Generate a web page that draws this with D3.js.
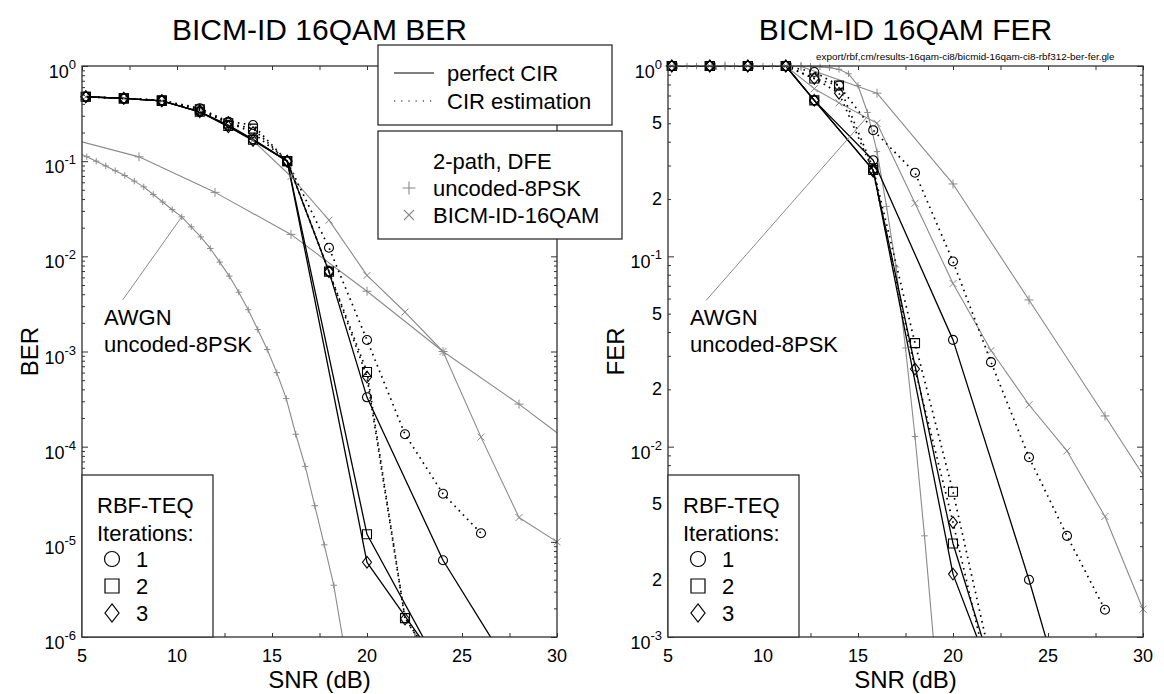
<!DOCTYPE html>
<html>
<head>
<meta charset="utf-8">
<script src="https://cdn.jsdelivr.net/npm/d3@7"></script>
<style>
  body { margin: 0; background: #fff; }
  text { font-family: "Liberation Sans", Arial, Helvetica, sans-serif; fill: #000; }
</style>
</head>
<body>
<svg id="chart" width="1164" height="694"></svg>
<script>
// ---------- data: [SNR (dB), error rate] ----------
// BER, RBF-TEQ, perfect CIR (solid)
const berPerfIt1 = [[5.2,.475],[7.2,.457],[9.2,.43],[11.2,.33],[12.7,.24],[14,.17],[15.8,.1],[18,6.9e-3],[20,3.3e-4],[24,6.4e-6],[28,3.3e-7]];
const berPerfIt2 = [[5.2,.475],[7.2,.457],[9.2,.43],[11.2,.33],[12.7,.235],[14,.168],[15.8,.1],[20,1.2e-5],[24,4.1e-7]];
const berPerfIt3 = [[5.2,.475],[7.2,.457],[9.2,.43],[11.2,.33],[12.7,.23],[14,.165],[15.8,.1],[20,6.1e-6],[24,4.5e-7]];
// BER, RBF-TEQ, CIR estimation (dotted)
const berEstIt1 = [[5.2,.475],[7.2,.457],[9.2,.435],[11.2,.36],[12.7,.26],[14,.24],[15.8,.1],[18,1.23e-2],[20,1.32e-3],[22,1.35e-4],[24,3.2e-5],[26,1.23e-5]];
const berEstIt2 = [[5.2,.475],[7.2,.457],[9.2,.435],[11.2,.35],[12.7,.25],[14,.22],[15.8,.1],[18,6.9e-3],[20,6.1e-4],[22,1.58e-6],[24,4e-7]];
const berEstIt3 = [[5.2,.475],[7.2,.457],[9.2,.435],[11.2,.34],[12.7,.255],[14,.2],[15.8,.1],[18,6.9e-3],[20,5.4e-4],[22,1.55e-6],[24,4e-7]];
// BER references (grey)
const berAwgn8psk = [[4.75,.124],[5.25,.1114],[5.75,.100],[6.25,.0891],[6.75,.0794],[7.25,.0708],[7.75,.0617],[8.25,.0537],[8.75,.0447],[9.25,.0372],[9.75,.0309],[10.25,.026],[10.75,.0204],[11.25,.016],[11.75,.0121],[12.25,8.7e-3],[12.75,6.2e-3],[13.25,4.2e-3],[13.75,2.75e-3],[14.25,1.7e-3],[14.75,1.05e-3],[15.25,6.0e-4],[15.75,3.2e-4],[16.25,1.35e-4],[16.75,6.2e-5],[17.25,2.4e-5],[17.75,9.3e-6],[18.25,3.5e-6],[18.75,9e-7]];
const berDfe8psk = [[4,.18],[8,.111],[12,.047],[16,.017],[20,4.3e-3],[24,1.0e-3],[28,2.8e-4],[32,7e-5]];
const berDfe16qam = [[5.2,.475],[7.2,.457],[9.2,.43],[11.2,.33],[12.7,.23],[14,.165],[16,.069],[18,.024],[20,6.3e-3],[22,2.6e-3],[24,1.0e-3],[26,1.26e-4],[28,1.8e-5],[30,1e-5]];

// FER, RBF-TEQ, perfect CIR (solid)
const ferPerfIt1 = [[5.2,1],[7.2,1],[9.2,1],[11.2,1],[12.7,.66],[15.8,.32],[20,.0364],[24,2.0e-3],[26,4.1e-4]];
const ferPerfIt2 = [[5.2,1],[7.2,1],[9.2,1],[11.2,1],[12.7,.66],[15.8,.284],[20,3.1e-3],[22,7e-4]];
const ferPerfIt3 = [[5.2,1],[7.2,1],[9.2,1],[11.2,1],[12.7,.66],[15.8,.284],[20,2.14e-3],[22,6.4e-4]];
// FER, RBF-TEQ, CIR estimation (dotted)
const ferEstIt1 = [[5.2,1],[7.2,1],[9.2,1],[11.2,1],[12.7,.93],[14,.79],[15.8,.46],[18,.275],[20,.094],[22,.0278],[24,8.8e-3],[26,3.4e-3],[28,1.39e-3]];
const ferEstIt2 = [[5.2,1],[7.2,1],[9.2,1],[11.2,1],[12.7,.86],[14,.79],[15.8,.29],[18,.035],[20,5.8e-3],[22,7.4e-4]];
const ferEstIt3 = [[5.2,1],[7.2,1],[9.2,1],[11.2,1],[12.7,.86],[14,.72],[15.8,.28],[18,.0256],[20,4.0e-3],[22,5.5e-4]];
// FER references (grey)
const ferAwgn8psk = [[5,1],[5.5,1],[6,1],[6.5,1],[7,1],[7.5,1],[8,1],[8.5,1],[9,1],[9.5,1],[10,1],[10.5,1],[11,1],[11.5,1],[12,.999],[12.5,.997],[13,.99],[13.5,.98],[14,.96],[14.5,.91],[15,.79],[15.5,.57],[16,.355],[16.5,.183],[17,.088],[17.5,.033],[18,.0113],[18.5,3.4e-3],[19,9e-4]];
const ferDfe8psk = [[4,1],[8,1],[12,.995],[16,.72],[20,.24],[24,.059],[28,.0145],[32,3.5e-3]];
const ferDfe16qam = [[5.2,1],[7.2,1],[9.2,1],[11.2,1],[12.7,.76],[14,.64],[16,.5],[18,.19],[20,.072],[22,.032],[24,.0166],[26,9.5e-3],[28,4.3e-3],[30,1.4e-3]];

// ---------- axis ticks and labels ----------
const snrMajor = [5, 10, 15, 20, 25, 30];
const snrMinor = [7.5, 12.5, 17.5, 22.5, 27.5];
const berDecades = [1, 1e-1, 1e-2, 1e-3, 1e-4, 1e-5, 1e-6];
const berDecadeLabels = ["0", "-1", "-2", "-3", "-4", "-5", "-6"];
const ferDecades = [1, 1e-1, 1e-2, 1e-3];
const ferDecadeLabels = ["0", "-1", "-2", "-3"];
const ferMantissaTicks = [0.5, 0.2, 0.05, 0.02, 0.005, 0.002];
const ferMantissaLabels = ["5", "2", "5", "2", "5", "2"];

const GREY = "#8a8a8a";
const AXIS = "#303030";
const svg = d3.select("#chart");

function minorLogTicks(lo, hi) {
  const out = [];
  for (let e = Math.floor(Math.log10(lo)); e < Math.ceil(Math.log10(hi)); e++)
    for (let m = 2; m <= 9; m++) {
      const v = m * Math.pow(10, e);
      if (v > lo && v < hi) out.push(v);
    }
  return out;
}

function markerPath(kind, s) {
  switch (kind) {
    case "square": return `M${-s},${-s}H${s}V${s}H${-s}Z`;
    case "diamond": return `M0,${-s * 1.3}L${s},0L0,${s * 1.3}L${-s},0Z`;
    case "plus": return `M${-s},0H${s}M0,${-s}V${s}`;
    case "cross": return `M${-s},${-s}L${s},${s}M${-s},${s}L${s},${-s}`;
    default: return d3.arc()({innerRadius: 0, outerRadius: s, startAngle: 0, endAngle: 2 * Math.PI});
  }
}

function panel(cfg) {
  const x = d3.scaleLinear().domain([5, 30]).range([cfg.left, cfg.right]);
  const y = d3.scaleLog().domain(cfg.yDomain).range([cfg.bottom, cfg.top]);
  const g = svg.append("g");
  const clipId = "clip-" + cfg.id;
  svg.append("clipPath").attr("id", clipId).append("rect")
    .attr("x", cfg.left).attr("y", cfg.top)
    .attr("width", cfg.right - cfg.left).attr("height", cfg.bottom - cfg.top);

  const lines = g.append("g").attr("clip-path", `url(#${clipId})`);
  const marks = g.append("g");
  const line = d3.line().x(d => x(d[0])).y(d => y(d[1]));
  const [ymin, ymax] = cfg.yDomain;

  cfg.series.forEach(s => {
    lines.append("path").datum(s.data).attr("d", line)
      .attr("fill", "none").attr("stroke", s.color)
      .attr("stroke-width", s.width)
      .attr("stroke-dasharray", s.dash || null)
      .attr("stroke-linejoin", "round");
    if (s.marker) {
      marks.selectAll(null)
        .data(s.data.filter(d => d[1] >= ymin * 0.999 && d[1] <= ymax * 1.001 && d[0] >= 5 && d[0] <= 30))
        .enter().append("path")
        .attr("transform", d => `translate(${x(d[0])},${y(d[1])})`)
        .attr("d", markerPath(s.marker, s.msize))
        .attr("fill", "none").attr("stroke", s.color)
        .attr("stroke-width", s.mwidth || 1);
    }
  });

  // frame and inward ticks on all four sides
  const ax = g.append("g");
  ax.append("rect").attr("x", cfg.left).attr("y", cfg.top)
    .attr("width", cfg.right - cfg.left).attr("height", cfg.bottom - cfg.top)
    .attr("fill", "none").attr("stroke", AXIS).attr("stroke-width", 1.3);
  const xTicks = snrMajor.concat(snrMinor);
  const tidy = sel => { sel.select(".domain").remove(); sel.selectAll("line").attr("stroke", AXIS); sel.selectAll("text").remove(); };
  ax.append("g").attr("transform", `translate(0,${cfg.bottom})`)
    .call(d3.axisBottom(x).tickValues(xTicks).tickSize(-4).tickSizeOuter(0)).call(tidy);
  ax.append("g").attr("transform", `translate(0,${cfg.top})`)
    .call(d3.axisTop(x).tickValues(xTicks).tickSize(-4).tickSizeOuter(0)).call(tidy);
  const minors = minorLogTicks(ymin, ymax);
  [[d3.axisLeft, cfg.left], [d3.axisRight, cfg.right]].forEach(([fn, px]) => {
    ax.append("g").attr("transform", `translate(${px},0)`)
      .call(fn(y).tickValues(cfg.decades).tickSize(-6).tickSizeOuter(0)).call(tidy);
    ax.append("g").attr("transform", `translate(${px},0)`)
      .call(fn(y).tickValues(minors).tickSize(-3).tickSizeOuter(0)).call(tidy);
  });

  // tick labels
  ax.selectAll(null).data(snrMajor).enter().append("text")
    .attr("x", d => x(d)).attr("y", cfg.bottom + 25)
    .attr("text-anchor", "middle").attr("font-size", 18).text(d => d);
  cfg.decades.forEach((v, i) => {
    const t = ax.append("text").attr("x", cfg.left - 6).attr("y", y(v) + 12)
      .attr("text-anchor", "end").attr("font-size", 18).text("10");
    t.append("tspan").attr("dy", -9).attr("font-size", 13).text(cfg.decadeLabels[i]);
  });
  if (cfg.mantissa) {
    ax.selectAll(null).data(cfg.mantissa).enter().append("text")
      .attr("x", cfg.left - 6).attr("y", d => y(d) + 6)
      .attr("text-anchor", "end").attr("font-size", 18)
      .text((d, i) => cfg.mantissaLabels[i]);
  }

  // titles
  const cx = (cfg.left + cfg.right) / 2;
  g.append("text").attr("x", cx).attr("y", 40).attr("text-anchor", "middle")
    .attr("font-size", 30).text(cfg.title);
  g.append("text").attr("x", cx).attr("y", 688).attr("text-anchor", "middle")
    .attr("font-size", 24).text("SNR (dB)");
  g.append("text").attr("transform", `translate(${cfg.left - 44},${(cfg.top + cfg.bottom) / 2}) rotate(-90)`)
    .attr("text-anchor", "middle").attr("font-size", 24).text(cfg.yLabel);

  // AWGN annotation with leader line to the reference curve
  const a = cfg.awgnNote;
  g.append("line").attr("x1", x(a.at[0])).attr("y1", y(a.at[1]))
    .attr("x2", x(a.from[0])).attr("y2", y(a.from[1]))
    .attr("stroke", GREY).attr("stroke-width", 1);
  g.append("text").attr("x", cfg.left + 22).attr("y", 325).attr("font-size", 22).text("AWGN");
  g.append("text").attr("x", cfg.left + 22).attr("y", 352).attr("font-size", 22).text("uncoded-8PSK");

  // iterations legend
  const lx = cfg.left, ly = 475;
  const lg = g.append("g");
  lg.append("rect").attr("x", lx).attr("y", ly).attr("width", 131).attr("height", cfg.bottom - ly)
    .attr("fill", "#fff").attr("stroke", AXIS).attr("stroke-width", 1.3);
  lg.append("text").attr("x", lx + 15).attr("y", ly + 38).attr("font-size", 22).text("RBF-TEQ");
  lg.append("text").attr("x", lx + 15).attr("y", ly + 66).attr("font-size", 22).text("Iterations:");
  ["circle", "square", "diamond"].forEach((k, i) => {
    const yy = ly + 84 + i * 27;
    lg.append("path").attr("transform", `translate(${lx + 30},${yy})`)
      .attr("d", markerPath(k, k === "circle" ? 7.5 : 7))
      .attr("fill", "none").attr("stroke", "#000").attr("stroke-width", 1.2);
    lg.append("text").attr("x", lx + 54).attr("y", yy + 8).attr("font-size", 22).text(i + 1);
  });
  return {x, y};
}

function blackSeries(p1, p2, p3, e1, e2, e3) {
  const solid = {color: "#000", width: 1.3, msize: 4.5, mwidth: 1.1};
  const dotted = {color: "#000", width: 1.7, dash: "1.6,4.4", msize: 4.5, mwidth: 1.1};
  return [
    Object.assign({data: e1, marker: "circle"}, dotted),
    Object.assign({data: e2, marker: "square"}, dotted),
    Object.assign({data: e3, marker: "diamond"}, dotted),
    Object.assign({data: p1, marker: "circle"}, solid),
    Object.assign({data: p2, marker: "square"}, solid),
    Object.assign({data: p3, marker: "diamond"}, solid)
  ];
}

function greySeries(awgn, dfe8, dfe16) {
  return [
    {data: awgn, color: GREY, width: 1.1, marker: "plus", msize: 3.2},
    {data: dfe8, color: GREY, width: 1.1, marker: "plus", msize: 4.5},
    {data: dfe16, color: GREY, width: 1.1, marker: "cross", msize: 3.5}
  ];
}

panel({
  id: "ber", left: 82, right: 557, top: 66, bottom: 637, yDomain: [1e-6, 1],
  decades: berDecades, decadeLabels: berDecadeLabels,
  title: "BICM-ID 16QAM BER", yLabel: "BER",
  awgnNote: {at: [10.25, .026], from: [7.15, 3.5e-3]},
  series: greySeries(berAwgn8psk, berDfe8psk, berDfe16qam)
    .concat(blackSeries(berPerfIt1, berPerfIt2, berPerfIt3, berEstIt1, berEstIt2, berEstIt3))
});

panel({
  id: "fer", left: 668, right: 1143, top: 66, bottom: 637, yDomain: [1e-3, 1],
  decades: ferDecades, decadeLabels: ferDecadeLabels,
  mantissa: ferMantissaTicks, mantissaLabels: ferMantissaLabels,
  title: "BICM-ID 16QAM FER", yLabel: "FER",
  awgnNote: {at: [15.55, .55], from: [7.0, .0586]},
  series: greySeries(ferAwgn8psk, ferDfe8psk, ferDfe16qam)
    .concat(blackSeries(ferPerfIt1, ferPerfIt2, ferPerfIt3, ferEstIt1, ferEstIt2, ferEstIt3))
});

// source file tag above the FER plot
svg.append("text").attr("x", 816).attr("y", 60).attr("font-size", 9.9).attr("fill", "#333")
  .text("export/rbf,cm/results-16qam-ci8/bicmid-16qam-ci8-rbf312-ber-fer.gle");

// line-style / reference legends
const lgTop = svg.append("g");
lgTop.append("rect").attr("x", 378).attr("y", 45).attr("width", 234).attr("height", 80)
  .attr("fill", "#fff").attr("stroke", AXIS).attr("stroke-width", 1.3);
lgTop.append("line").attr("x1", 394).attr("x2", 434).attr("y1", 73).attr("y2", 73)
  .attr("stroke", "#000").attr("stroke-width", 1.2);
lgTop.append("line").attr("x1", 394).attr("x2", 434).attr("y1", 101).attr("y2", 101)
  .attr("stroke", "#000").attr("stroke-width", 1.2).attr("stroke-dasharray", "1.2,6");
lgTop.append("text").attr("x", 447).attr("y", 81).attr("font-size", 22).text("perfect CIR");
lgTop.append("text").attr("x", 447).attr("y", 109).attr("font-size", 22).text("CIR estimation");

const lgRef = svg.append("g");
lgRef.append("rect").attr("x", 378).attr("y", 131).attr("width", 244).attr("height", 108)
  .attr("fill", "#fff").attr("stroke", AXIS).attr("stroke-width", 1.3);
lgRef.append("text").attr("x", 433).attr("y", 169).attr("font-size", 22).text("2-path, DFE");
lgRef.append("path").attr("transform", "translate(409,188)").attr("d", markerPath("plus", 6.5))
  .attr("stroke", GREY).attr("stroke-width", 1.1).attr("fill", "none");
lgRef.append("text").attr("x", 433).attr("y", 196).attr("font-size", 22).text("uncoded-8PSK");
lgRef.append("path").attr("transform", "translate(409,215)").attr("d", markerPath("cross", 5))
  .attr("stroke", GREY).attr("stroke-width", 1.1).attr("fill", "none");
lgRef.append("text").attr("x", 433).attr("y", 223).attr("font-size", 22).text("BICM-ID-16QAM");
</script>
</body>
</html>
